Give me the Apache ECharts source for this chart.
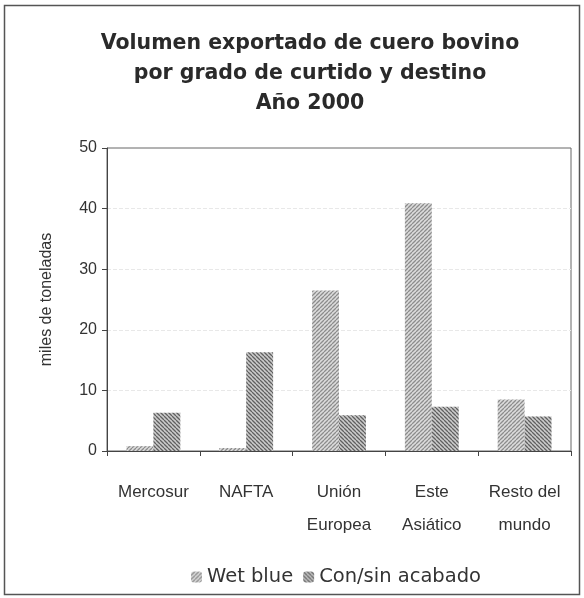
<!DOCTYPE html>
<html><head><meta charset="utf-8">
<script src="https://cdn.jsdelivr.net/npm/echarts@6/dist/echarts.min.js"></script>
<style>html,body{margin:0;padding:0;background:#fff}#c{width:584px;height:598px}</style>
</head><body><div id="c"></div>
<script>
const categories = ['Mercosur', 'NAFTA', 'Unión\nEuropea', 'Este\nAsiático', 'Resto del\nmundo'];
const wetBlue = [0.8, 0.5, 26.5, 40.9, 8.5];
const conSinAcabado = [6.3, 16.3, 5.9, 7.3, 5.7];
const yTicks = [0, 10, 20, 30, 40, 50];

function hatch(dir, bg, fg, step) {
  const c = document.createElement('canvas');
  c.width = step; c.height = step;
  const g = c.getContext('2d');
  g.fillStyle = bg; g.fillRect(0, 0, step, step);
  g.strokeStyle = fg; g.lineWidth = 1.3;
  g.beginPath();
  for (let k = -1; k <= 1; k++) {
    if (dir > 0) { g.moveTo(k * step, step); g.lineTo(k * step + step, 0); }
    else { g.moveTo(k * step, 0); g.lineTo(k * step + step, step); }
  }
  g.stroke();
  return { image: c, repeat: 'repeat' };
}
const patWet = hatch(1, '#dcdcdc', '#8c8c8c', 4);
const patCon = hatch(-1, '#cccccc', '#606060', 4);

const chart = echarts.init(document.getElementById('c'), null, { renderer: 'canvas' });
chart.setOption({
  backgroundColor: '#fff',
  animation: false,
  graphic: [{ type: 'rect', shape: { x: 4.5, y: 5.5, width: 575, height: 589 }, style: { fill: 'none', stroke: '#555', lineWidth: 1.5 }, silent: true }],
  title: {
    text: 'Volumen exportado de cuero bovino\npor grado de curtido y destino\nAño 2000',
    left: 305, top: 24, textAlign: 'center',
    textStyle: { fontFamily: 'DejaVu Sans', fontWeight: 'bold', fontSize: 20.5, color: '#2a2a2a', lineHeight: 30 }
  },
  legend: {
    bottom: 6, left: 186,
    itemWidth: 11, itemHeight: 11, itemGap: 10,
    textStyle: { fontFamily: 'DejaVu Sans', fontSize: 19.5, color: '#333' },
    data: ['Wet blue', 'Con/sin acabado']
  },
  grid: { left: 107, right: 13, top: 148, bottom: 147, show: true, borderColor: '#666', borderWidth: 1 },
  xAxis: {
    type: 'category', data: categories,
    axisLine: { lineStyle: { color: '#444', width: 1 } },
    axisTick: { show: true, interval: 0, length: 5, lineStyle: { color: '#444' } },
    axisLabel: { interval: 0, hideOverlap: false, fontFamily: 'Liberation Sans', fontSize: 17, color: '#333', lineHeight: 33, margin: 25 }
  },
  yAxis: {
    type: 'value', min: yTicks[0], max: yTicks[yTicks.length - 1], interval: 10,
    name: 'miles de toneladas', nameLocation: 'middle', nameGap: 52, nameRotate: 90,
    nameTextStyle: { fontFamily: 'Liberation Sans', fontSize: 16, color: '#333' },
    axisLine: { show: true, lineStyle: { color: '#444' } },
    axisTick: { show: true, length: 5, lineStyle: { color: '#444' } },
    axisLabel: { fontFamily: 'Liberation Sans', fontSize: 16, color: '#333', margin: 10 },
    splitLine: { show: true, showMaxLine: false, lineStyle: { color: '#e8e8e8', type: 'dashed' } }
  },
  series: [
    { name: 'Wet blue', type: 'bar', data: wetBlue, barGap: '0%', barCategoryGap: '42%', itemStyle: { color: patWet } },
    { name: 'Con/sin acabado', type: 'bar', data: conSinAcabado, itemStyle: { color: patCon } }
  ]
});
</script></body></html>
